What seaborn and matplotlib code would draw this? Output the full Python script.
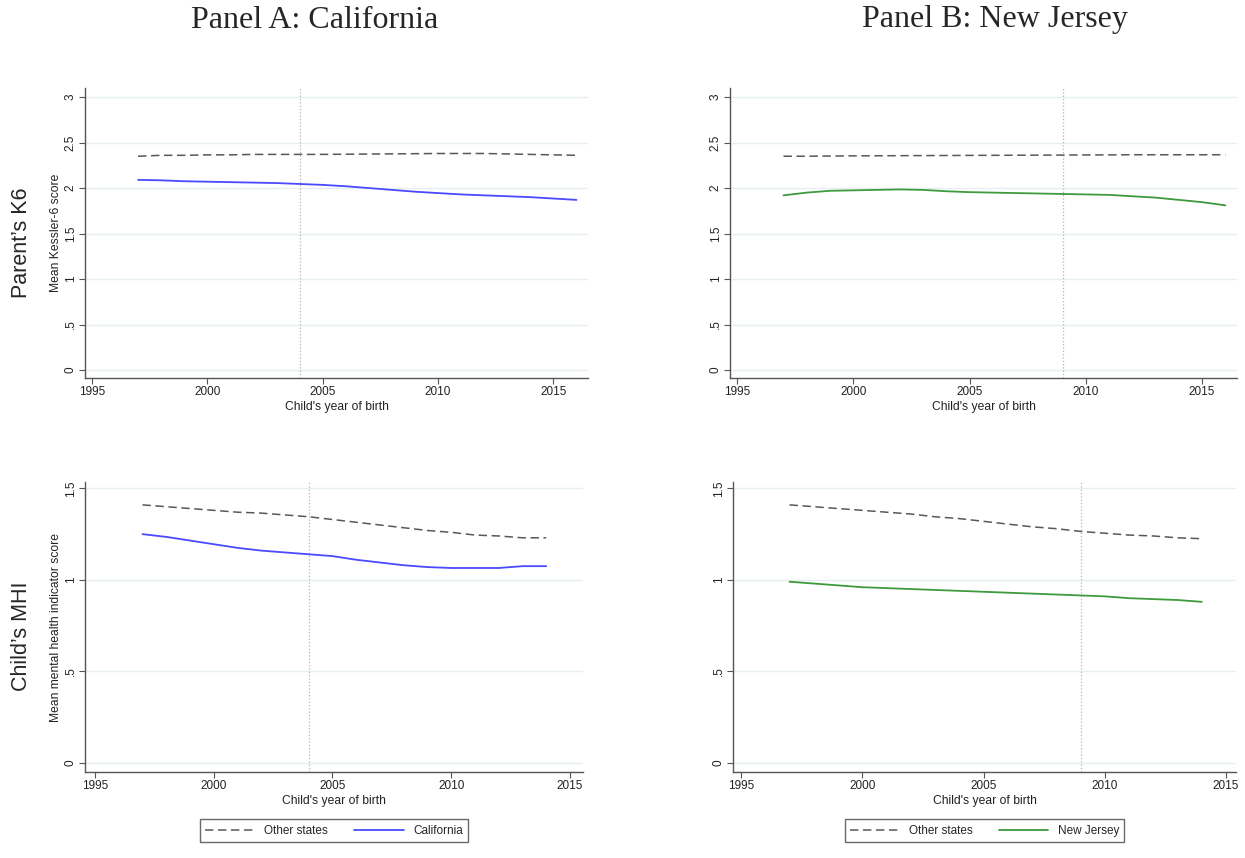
import matplotlib
matplotlib.use('Agg')
import matplotlib.pyplot as plt
import seaborn as sns
import pandas as pd

sns.set_style('white')
plt.rcParams['font.family'] = ['Liberation Sans', 'DejaVu Sans']

# Child's year of birth
years_k6 = list(range(1997, 2017))   # parent's K6 panels
years_mhi = list(range(1997, 2015))  # child's MHI panels

# Parent's K6 (mean Kessler-6 score)
k6_other_ca = [2.35, 2.36, 2.36, 2.365, 2.365, 2.37, 2.37, 2.37, 2.37, 2.372,
               2.374, 2.376, 2.378, 2.38, 2.38, 2.38, 2.375, 2.37, 2.365, 2.36]
k6_ca = [2.09, 2.085, 2.075, 2.07, 2.065, 2.06, 2.055, 2.045, 2.035, 2.02,
         2.0, 1.98, 1.96, 1.945, 1.93, 1.92, 1.91, 1.9, 1.885, 1.87]
k6_other_nj = [2.35, 2.35, 2.352, 2.354, 2.355, 2.356, 2.357, 2.358, 2.359, 2.36,
               2.361, 2.362, 2.363, 2.364, 2.365, 2.366, 2.366, 2.366, 2.366, 2.366]
k6_nj = [1.92, 1.95, 1.97, 1.975, 1.98, 1.985, 1.98, 1.965, 1.955, 1.95,
         1.945, 1.94, 1.935, 1.93, 1.925, 1.91, 1.895, 1.87, 1.845, 1.81]

# Child's MHI (mean mental health indicator score)
mhi_other_ca = [1.41, 1.40, 1.39, 1.38, 1.37, 1.365, 1.355, 1.345, 1.33, 1.315,
                1.30, 1.285, 1.27, 1.26, 1.245, 1.24, 1.23, 1.23]
mhi_ca = [1.25, 1.235, 1.215, 1.195, 1.175, 1.16, 1.15, 1.14, 1.13, 1.11,
          1.095, 1.08, 1.07, 1.065, 1.065, 1.065, 1.075, 1.075]
mhi_other_nj = [1.41, 1.40, 1.39, 1.38, 1.37, 1.36, 1.345, 1.335, 1.32, 1.305,
                1.29, 1.28, 1.265, 1.255, 1.245, 1.24, 1.23, 1.225]
mhi_nj = [0.99, 0.98, 0.97, 0.96, 0.955, 0.95, 0.945, 0.94, 0.935, 0.93,
          0.925, 0.92, 0.915, 0.91, 0.90, 0.895, 0.89, 0.88]

policy_year = {'California': 2004, 'New Jersey': 2009}
state_color = {'California': '#4a4aff', 'New Jersey': '#3d9a3d'}

W, H = 1245, 858
fig = plt.figure(figsize=(W / 100, H / 100), dpi=100)


def px_axes(left, right, top, bottom):
    return fig.add_axes([left / W, 1 - bottom / H, (right - left) / W, (bottom - top) / H])


def draw_panel(ax, years, other, treated, state, yticks, ylabels, ylim, xlim, ylabel):
    df = pd.DataFrame({'year': years, 'Other states': other, state: treated})
    for y in yticks:
        ax.axhline(y, color='#e6eff0', lw=1.0, zorder=0)
    ax.axvline(policy_year[state], color='#b5b5b5', lw=0.9, ls=':', zorder=1)
    sns.lineplot(data=df, x='year', y='Other states', ax=ax, color='#585858',
                 lw=1.1, label='Other states')
    ax.lines[-1].set_linestyle((0, (5.5, 3)))
    sns.lineplot(data=df, x='year', y=state, ax=ax, color=state_color[state],
                 lw=1.3, label=state)
    ax.set_xlim(*xlim)
    ax.set_ylim(*ylim)
    ax.set_xticks([1995, 2000, 2005, 2010, 2015])
    ax.set_yticks(yticks)
    ax.set_yticklabels(ylabels, rotation=90, va='center')
    ax.tick_params(axis='both', direction='out', length=4, width=0.8,
                   color='#555555', labelsize=8.5, labelcolor='#222222', pad=2)
    ax.tick_params(left=True, bottom=True)
    for s in ['top', 'right']:
        ax.spines[s].set_visible(False)
    for s in ['left', 'bottom']:
        ax.spines[s].set_color('#555555')
        ax.spines[s].set_linewidth(1.0)
    ax.set_xlabel("Child's year of birth", fontsize=8.7, color='#222222', labelpad=2)
    ax.set_ylabel(ylabel, fontsize=8.7, color='#222222', labelpad=2)
    ax.get_legend().remove()


k6_ticks = [0, 0.5, 1, 1.5, 2, 2.5, 3]
k6_labels = ['0', '.5', '1', '1.5', '2', '2.5', '3']
mhi_ticks = [0, 0.5, 1, 1.5]
mhi_labels = ['0', '.5', '1', '1.5']

ax_tl = px_axes(85, 588, 88, 378)
draw_panel(ax_tl, years_k6, k6_other_ca, k6_ca, 'California', k6_ticks, k6_labels,
           (-0.088, 3.1), (1994.7, 2016.5), 'Mean Kessler-6 score')
ax_tr = px_axes(730, 1237, 88, 378)
draw_panel(ax_tr, years_k6, k6_other_nj, k6_nj, 'New Jersey', k6_ticks, k6_labels,
           (-0.088, 3.1), (1994.7, 2016.5), '')
ax_bl = px_axes(85, 583, 482, 772)
draw_panel(ax_bl, years_mhi, mhi_other_ca, mhi_ca, 'California', mhi_ticks, mhi_labels,
           (-0.05, 1.535), (1994.58, 2015.55), 'Mean mental health indicator score')
ax_br = px_axes(733, 1236, 482, 772)
draw_panel(ax_br, years_mhi, mhi_other_nj, mhi_nj, 'New Jersey', mhi_ticks, mhi_labels,
           (-0.05, 1.535), (1994.67, 2015.41), '')

for ax in [ax_bl, ax_br]:
    h, l = ax.get_legend_handles_labels()
    leg = ax.legend(h, l, loc='upper center', bbox_to_anchor=(0.5, -0.143), ncol=2,
                    fontsize=8.5, frameon=True, fancybox=False, handlelength=4.2,
                    handletextpad=0.8, columnspacing=2.2, borderpad=0.45)
    leg.get_frame().set_edgecolor('#444444')
    leg.get_frame().set_linewidth(1.0)

# Column and row titles
fig.text(315 / W, 1 - 20 / H, 'Panel A: California', fontsize=23,
         family='Liberation Serif', ha='center', va='center')
fig.text(995 / W, 1 - 20 / H, 'Panel B: New Jersey', fontsize=23,
         family='Liberation Serif', ha='center', va='center')
fig.text(22 / W, 1 - 243 / H, "Parent\u2019s K6", fontsize=15.5, rotation=90,
         ha='center', va='center')
fig.text(22 / W, 1 - 636 / H, "Child\u2019s MHI", fontsize=15.5, rotation=90,
         ha='center', va='center')

fig.savefig('out.png', dpi=100)
